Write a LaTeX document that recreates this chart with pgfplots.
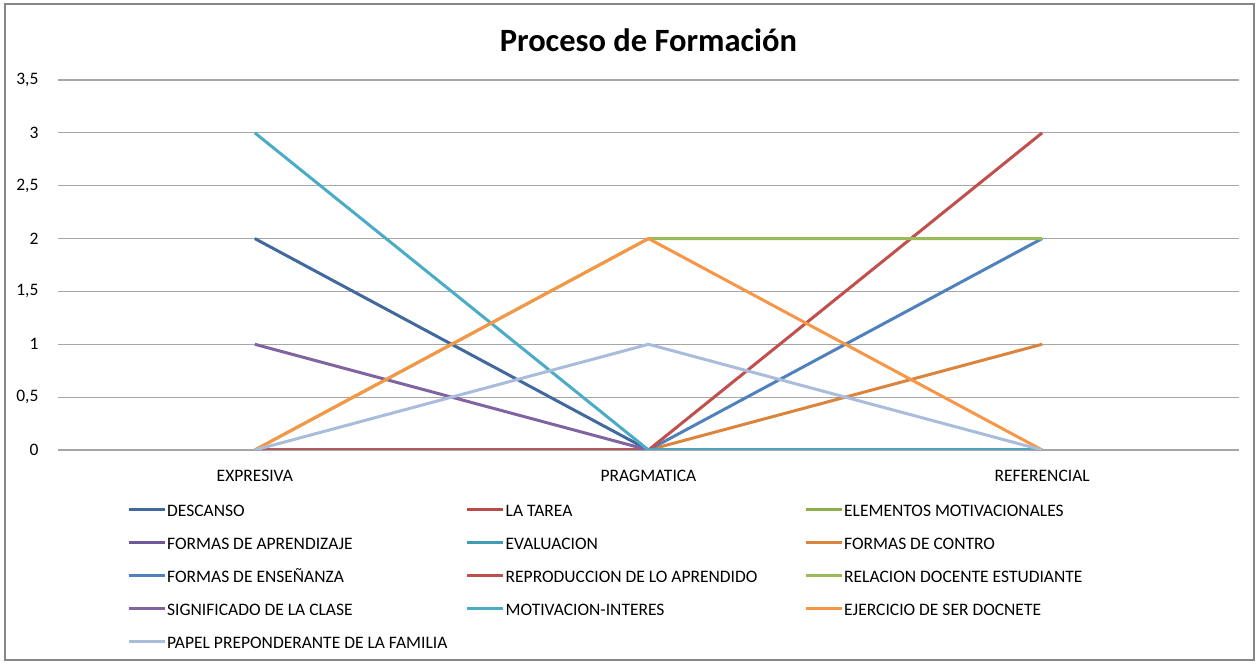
\documentclass[border=0pt]{standalone}
\usepackage{fontspec}
\setmainfont{Carlito}
\usepackage{pgfplots}
\pgfplotsset{compat=1.18}
\definecolor{cA}{HTML}{41699E}
\definecolor{cB}{HTML}{B94A47}
\definecolor{cC}{HTML}{8EAE4E}
\definecolor{cD}{HTML}{71589B}
\definecolor{cE}{HTML}{3F9CB5}
\definecolor{cF}{HTML}{DB843D}
\definecolor{cG}{HTML}{4F81BD}
\definecolor{cH}{HTML}{C0504D}
\definecolor{cI}{HTML}{9BBB59}
\definecolor{cJ}{HTML}{8064A2}
\definecolor{cK}{HTML}{4BACC6}
\definecolor{cL}{HTML}{F79646}
\definecolor{cM}{HTML}{A9BCDB}
\definecolor{gridc}{HTML}{A6A6A6}
\newcommand{\legtxt}[1]{\makebox[297.5pt][l]{\rule[-5pt]{0pt}{20pt}#1}}
\begin{document}
\begin{tikzpicture}[x=1pt,y=1pt]
\path (0,0) rectangle (1259,664);
\draw[color={rgb,255:red,134;green,134;blue,134}, line width=1.2pt] (5,4) rectangle (1254,660);
\begin{axis}[
  at={(58pt,214pt)}, anchor=south west,
  scale only axis, width=1181pt, height=370pt,
  xmin=-0.5, xmax=2.5, ymin=0, ymax=3.5,
  xtick={0,1,2}, xticklabels={EXPRESIVA,PRAGMATICA,REFERENCIAL},
  ytick={0,0.5,1,1.5,2,2.5,3,3.5},
  /pgf/number format/use comma,
  /pgf/number format/assume math mode=true,
  yticklabel style={font=\fontsize{17.5}{20}\selectfont, color=black, xshift=-16pt},
  xticklabel style={font=\fontsize{17.5}{20}\selectfont, color=black, yshift=-17pt},
  axis line style={draw=none},
  major tick style={draw=none},
  ymajorgrids, major grid style={gridc, line width=1.2pt},
  title={\bfseries Proceso de Formación},
  title style={font=\fontsize{32.5}{38}\selectfont, at={(0.5,1)}, anchor=center, yshift=34pt},
  legend columns=3,
  legend cell align=left,
  legend style={at={(69pt,-50pt)}, anchor=north west, draw=none, fill=none,
    font=\fontsize{17.5}{20}\selectfont, row sep=14.5pt, inner sep=0pt,
    nodes={inner sep=1pt}},
  legend image code/.code={\draw[#1, line width=3pt] (0pt,0pt) -- (36pt,0pt);},
  every axis plot/.append style={line width=3pt, line join=round},
]
\addplot[cA] coordinates {(0,2) (1,0) (2,0)};
\addlegendentry{\legtxt{DESCANSO}}
\addplot[cB] coordinates {(0,0) (1,0) (2,0)};
\addlegendentry{\legtxt{LA TAREA}}
\addplot[cC] coordinates {(0,0) (1,0) (2,0)};
\addlegendentry{\legtxt{ELEMENTOS MOTIVACIONALES}}
\addplot[cD] coordinates {(0,0) (1,0) (2,0)};
\addlegendentry{\legtxt{FORMAS DE APRENDIZAJE}}
\addplot[cE] coordinates {(0,0) (1,0) (2,0)};
\addlegendentry{\legtxt{EVALUACION}}
\addplot[cF] coordinates {(0,0) (1,0) (2,1)};
\addlegendentry{\legtxt{FORMAS DE CONTRO}}
\addplot[cG] coordinates {(0,0) (1,0) (2,2)};
\addlegendentry{\legtxt{FORMAS DE ENSEÑANZA}}
\addplot[cH] coordinates {(0,0) (1,0) (2,3)};
\addlegendentry{\legtxt{REPRODUCCION DE LO APRENDIDO}}
\addplot[cI] coordinates {(0,0) (1,2) (2,2)};
\addlegendentry{\legtxt{RELACION DOCENTE ESTUDIANTE}}
\addplot[cJ] coordinates {(0,1) (1,0) (2,0)};
\addlegendentry{\legtxt{SIGNIFICADO DE LA CLASE}}
\addplot[cK] coordinates {(0,3) (1,0) (2,0)};
\addlegendentry{\legtxt{MOTIVACION-INTERES}}
\addplot[cL] coordinates {(0,0) (1,2) (2,0)};
\addlegendentry{\legtxt{EJERCICIO DE SER DOCNETE}}
\addplot[cM] coordinates {(0,0) (1,1) (2,0)};
\addlegendentry{\legtxt{PAPEL PREPONDERANTE DE LA FAMILIA}}
\end{axis}
\end{tikzpicture}
\end{document}
